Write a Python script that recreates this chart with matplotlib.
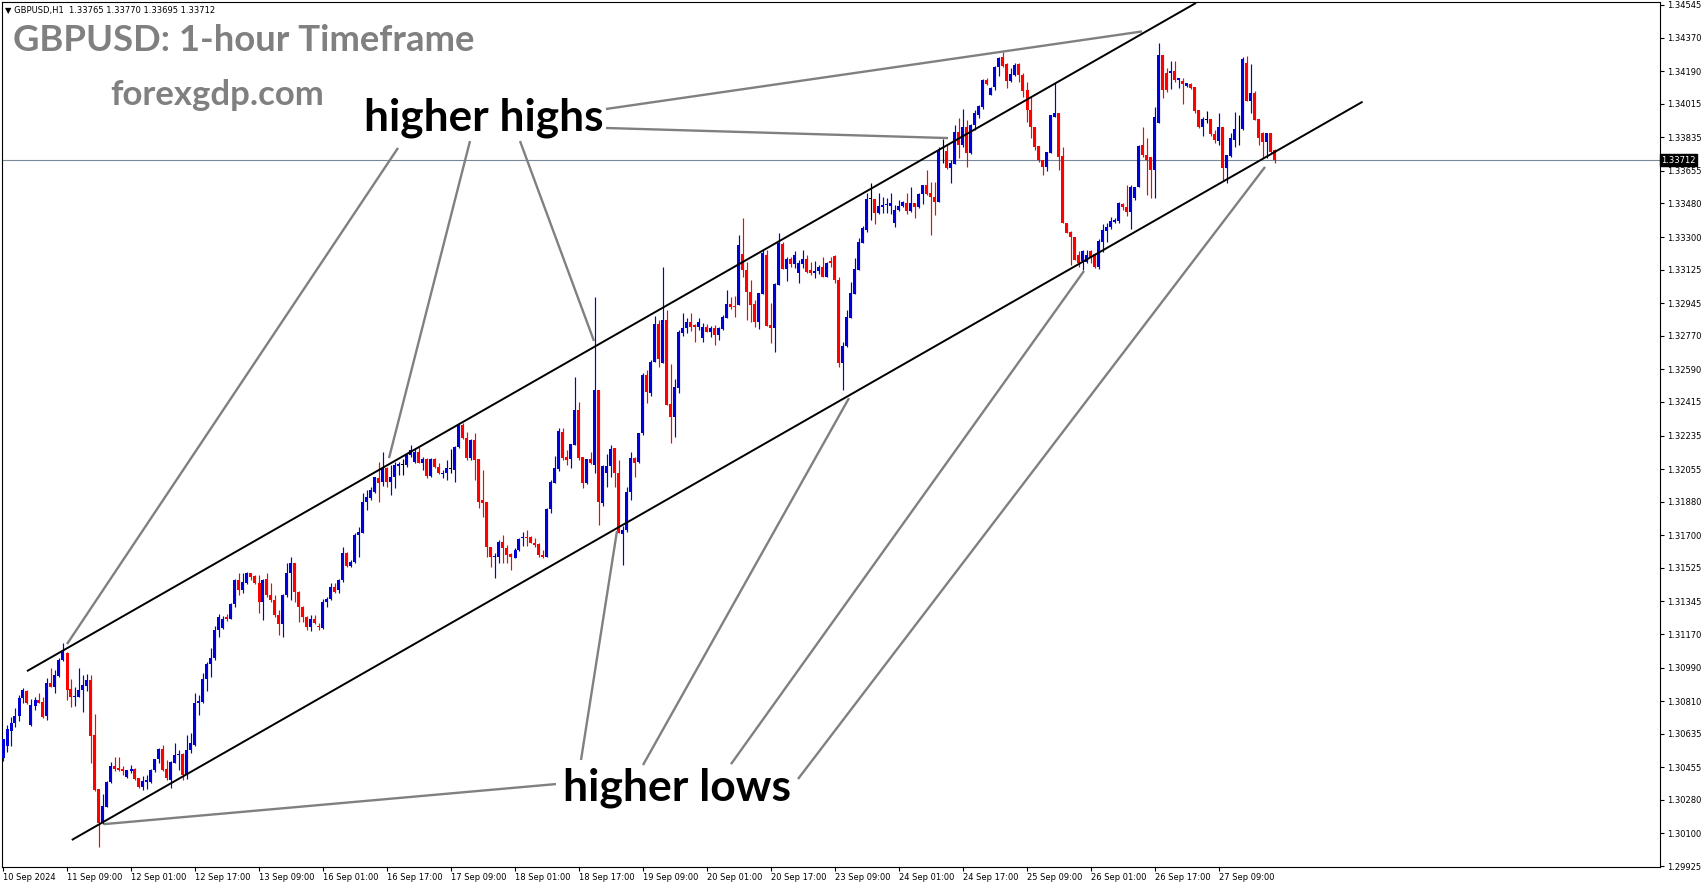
import matplotlib
matplotlib.use("Agg")
import matplotlib.pyplot as plt
import numpy as np

# ---------------- data (GBPUSD H1) ----------------
open_ = [1.30503,1.30569,1.30651,1.30691,1.30730,1.30825,1.30864,1.30682,1.30786,1.30816,
1.30804,1.30730,1.30909,1.30888,1.30945,1.31031,1.31070,1.30875,1.30834,1.30834,
1.30870,1.30893,1.30923,1.30628,1.30338,1.30158,1.30244,1.30378,1.30462,1.30453,
1.30446,1.30401,1.30437,1.30446,1.30395,1.30350,1.30378,1.30378,1.30440,1.30497,
1.30551,1.30445,1.30386,1.30480,1.30521,1.30527,1.30413,1.30547,1.30574,1.30798,
1.30807,1.30927,1.31009,1.31039,1.31191,1.31200,1.31259,1.31250,1.31331,1.31460,
1.31406,1.31442,1.31495,1.31480,1.31442,1.31343,1.31463,1.31380,1.31352,1.31272,
1.31223,1.31379,1.31495,1.31549,1.31397,1.31317,1.31263,1.31209,1.31248,1.31214,
1.31200,1.31340,1.31356,1.31424,1.31406,1.31460,1.31607,1.31535,1.31558,1.31701,
1.31714,1.31880,1.31898,1.31934,1.32006,1.31983,1.32059,1.31987,1.32014,1.32073,
1.32077,1.32077,1.32131,1.32095,1.32144,1.32090,1.32108,1.32018,1.32108,1.32068,
1.32027,1.32032,1.32057,1.32050,1.32175,1.32292,1.32220,1.32112,1.32211,1.32107,
1.31889,1.31880,1.31638,1.31583,1.31585,1.31665,1.31629,1.31599,1.31576,1.31620,
1.31683,1.31692,1.31688,1.31660,1.31653,1.31594,1.31581,1.31839,1.31982,1.32054,
1.32255,1.32121,1.32107,1.32184,1.32372,1.32118,1.31978,1.32107,1.32077,1.32479,
1.31875,1.32032,1.32071,1.32166,1.32036,1.31706,1.31728,1.31934,1.32112,1.32094,
1.32250,1.32560,1.32465,1.32631,1.32833,1.32626,1.32855,1.32404,1.32332,1.32488,
1.32787,1.32810,1.32846,1.32828,1.32819,1.32756,1.32819,1.32792,1.32810,1.32774,
1.32805,1.32864,1.32941,1.32930,1.32935,1.33209,1.33123,1.33007,1.32941,1.32846,
1.32994,1.33204,1.32828,1.32810,1.33043,1.33263,1.33127,1.33180,1.33155,1.33105,
1.33155,1.33180,1.33123,1.33105,1.33120,1.33137,1.33087,1.33173,1.33198,1.33069,
1.32626,1.32715,1.32864,1.32994,1.33123,1.33270,1.33338,1.33505,1.33502,1.33431,
1.33463,1.33472,1.33466,1.33377,1.33445,1.33466,1.33485,1.33441,1.33485,1.33459,
1.33531,1.33579,1.33538,1.33513,1.33490,1.33765,1.33763,1.33669,1.33692,1.33865,
1.33794,1.33892,1.33749,1.33901,1.33955,1.33996,1.34143,1.34062,1.34107,1.34214,
1.34264,1.34229,1.34139,1.34170,1.34229,1.34170,1.34089,1.33982,1.33889,1.33788,
1.33713,1.33677,1.33753,1.33942,1.33964,1.33735,1.33377,1.33329,1.33298,1.33203,
1.33173,1.33168,1.33225,1.33209,1.33137,1.33275,1.33334,1.33356,1.33382,1.33388,
1.33477,1.33463,1.33436,1.33508,1.33570,1.33794,1.33740,1.33731,1.33660,1.33910,
1.34277,1.34182,1.34178,1.34193,1.34143,1.34139,1.34110,1.34121,1.34103,1.33982,
1.33889,1.33928,1.33932,1.33853,1.33817,1.33892,1.33669,1.33735,1.33821,1.33878,
1.33878,1.34236,1.34032,1.34075,1.33932,1.33856,1.33808,1.33856,1.33765]

high = [1.30605,1.30682,1.30727,1.30771,1.30843,1.30879,1.30870,1.30820,1.30830,1.30852,
1.30830,1.30932,1.30986,1.30977,1.31040,1.31120,1.31075,1.30927,1.30888,1.30986,
1.30950,1.30954,1.30950,1.30741,1.30340,1.30312,1.30380,1.30485,1.30512,1.30508,
1.30462,1.30442,1.30467,1.30450,1.30397,1.30408,1.30413,1.30444,1.30502,1.30556,
1.30574,1.30494,1.30490,1.30587,1.30547,1.30530,1.30628,1.30637,1.30851,1.30843,
1.30962,1.31021,1.31093,1.31213,1.31277,1.31267,1.31277,1.31334,1.31463,1.31499,
1.31499,1.31505,1.31499,1.31487,1.31487,1.31463,1.31495,1.31442,1.31379,1.31298,
1.31384,1.31549,1.31585,1.31552,1.31400,1.31320,1.31265,1.31272,1.31272,1.31227,
1.31356,1.31370,1.31445,1.31445,1.31463,1.31639,1.31612,1.31567,1.31714,1.31746,
1.31925,1.31943,1.31961,1.32014,1.32095,1.32148,1.32068,1.32077,1.32095,1.32095,
1.32108,1.32136,1.32184,1.32166,1.32175,1.32118,1.32113,1.32113,1.32113,1.32086,
1.32050,1.32104,1.32161,1.32179,1.32292,1.32301,1.32256,1.32214,1.32250,1.32107,
1.32050,1.31880,1.31638,1.31606,1.31674,1.31701,1.31647,1.31603,1.31629,1.31683,
1.31719,1.31728,1.31695,1.31683,1.31656,1.31620,1.31844,1.31996,1.32125,1.32273,
1.32273,1.32157,1.32189,1.32547,1.32416,1.32121,1.32107,1.32148,1.32980,1.32479,
1.32077,1.32136,1.32184,1.32166,1.32103,1.31749,1.31960,1.32148,1.32118,1.32250,
1.32569,1.32587,1.32640,1.32876,1.32855,1.33141,1.32908,1.32619,1.32536,1.32801,
1.32891,1.32864,1.32891,1.32833,1.32864,1.32837,1.32833,1.32823,1.32828,1.32819,
1.32882,1.33016,1.32980,1.32984,1.33311,1.33400,1.33168,1.33069,1.32962,1.33001,
1.33230,1.33230,1.32944,1.33051,1.33320,1.33275,1.33191,1.33191,1.33227,1.33177,
1.33230,1.33204,1.33168,1.33173,1.33150,1.33191,1.33168,1.33195,1.33204,1.33087,
1.32738,1.32908,1.33060,1.33186,1.33293,1.33359,1.33538,1.33588,1.33502,1.33538,
1.33516,1.33508,1.33534,1.33472,1.33499,1.33495,1.33538,1.33567,1.33485,1.33534,
1.33579,1.33660,1.33597,1.33597,1.33781,1.33824,1.33794,1.33713,1.33901,1.33937,
1.33985,1.33928,1.33905,1.33982,1.34008,1.34146,1.34155,1.34103,1.34218,1.34264,
1.34295,1.34236,1.34205,1.34232,1.34236,1.34182,1.34134,1.34053,1.33889,1.33788,
1.33713,1.33758,1.33955,1.34128,1.33964,1.33785,1.33377,1.33334,1.33298,1.33227,
1.33230,1.33230,1.33230,1.33212,1.33288,1.33370,1.33373,1.33409,1.33400,1.33490,
1.33481,1.33579,1.33579,1.33570,1.33794,1.33892,1.33830,1.33731,1.33999,1.34339,
1.34277,1.34205,1.34247,1.34247,1.34152,1.34152,1.34125,1.34125,1.34103,1.33982,
1.33942,1.33978,1.33932,1.33874,1.33967,1.33892,1.33740,1.33856,1.33973,1.33955,
1.34264,1.34271,1.34229,1.34085,1.33932,1.33865,1.33856,1.33856,1.33770]

low = [1.30490,1.30539,1.30569,1.30669,1.30705,1.30802,1.30795,1.30678,1.30762,1.30798,
1.30721,1.30709,1.30886,1.30855,1.30938,1.31027,1.30816,1.30780,1.30784,1.30830,
1.30753,1.30866,1.30476,1.30330,1.30029,1.30150,1.30240,1.30372,1.30437,1.30437,
1.30413,1.30397,1.30422,1.30385,1.30342,1.30333,1.30340,1.30370,1.30431,1.30476,
1.30436,1.30386,1.30342,1.30476,1.30440,1.30386,1.30390,1.30530,1.30570,1.30736,
1.30800,1.30866,1.30941,1.31030,1.31156,1.31195,1.31242,1.31248,1.31317,1.31379,
1.31388,1.31440,1.31460,1.31440,1.31281,1.31245,1.31370,1.31340,1.31263,1.31164,
1.31155,1.31370,1.31352,1.31343,1.31236,1.31236,1.31191,1.31188,1.31223,1.31191,
1.31196,1.31317,1.31352,1.31388,1.31392,1.31451,1.31531,1.31531,1.31553,1.31585,
1.31710,1.31835,1.31889,1.31925,1.31880,1.31964,1.31957,1.31916,1.31952,1.32023,
1.32023,1.32068,1.32122,1.32090,1.32086,1.32050,1.32005,1.32014,1.32059,1.32029,
1.32005,1.31996,1.32036,1.31987,1.32166,1.32215,1.32103,1.32103,1.31996,1.31844,
1.31799,1.31585,1.31531,1.31468,1.31549,1.31549,1.31549,1.31513,1.31576,1.31617,
1.31642,1.31642,1.31656,1.31635,1.31585,1.31576,1.31581,1.31817,1.31978,1.32047,
1.32103,1.32077,1.32059,1.32184,1.32103,1.31955,1.31975,1.32082,1.32032,1.31755,
1.31857,1.31960,1.32014,1.31960,1.31710,1.31540,1.31719,1.31889,1.32011,1.32086,
1.32238,1.32407,1.32447,1.32631,1.32601,1.32622,1.32398,1.32196,1.32225,1.32461,
1.32769,1.32783,1.32797,1.32738,1.32801,1.32738,1.32788,1.32765,1.32720,1.32747,
1.32801,1.32864,1.32912,1.32869,1.32935,1.33087,1.32855,1.32846,1.32815,1.32805,
1.32994,1.32823,1.32729,1.32685,1.33043,1.33127,1.33066,1.33141,1.33132,1.33051,
1.33132,1.33105,1.33096,1.33078,1.33102,1.33084,1.33087,1.33141,1.33055,1.32601,
1.32479,1.32712,1.32864,1.32994,1.33123,1.33266,1.33329,1.33391,1.33370,1.33423,
1.33427,1.33427,1.33423,1.33356,1.33441,1.33463,1.33423,1.33436,1.33400,1.33454,
1.33477,1.33525,1.33311,1.33418,1.33490,1.33695,1.33663,1.33588,1.33692,1.33722,
1.33785,1.33674,1.33746,1.33874,1.33937,1.33985,1.34116,1.34062,1.34089,1.34164,
1.34214,1.34098,1.34134,1.34164,1.34134,1.34053,1.33919,1.33830,1.33767,1.33704,
1.33633,1.33656,1.33753,1.33942,1.33660,1.33377,1.33323,1.33150,1.33177,1.33141,
1.33123,1.33159,1.33159,1.33132,1.33127,1.33221,1.33275,1.33341,1.33373,1.33377,
1.33445,1.33413,1.33341,1.33499,1.33567,1.33731,1.33525,1.33508,1.33508,1.33910,
1.34044,1.34080,1.34093,1.34134,1.34098,1.34014,1.34107,1.34093,1.33967,1.33883,
1.33842,1.33914,1.33842,1.33803,1.33794,1.33606,1.33592,1.33731,1.33781,1.33794,
1.33874,1.34032,1.33964,1.33928,1.33794,1.33722,1.33722,1.33746,1.33695]

close = [1.30605,1.30659,1.30691,1.30730,1.30825,1.30870,1.30798,1.30789,1.30816,1.30802,
1.30727,1.30909,1.30888,1.30950,1.31031,1.31075,1.30870,1.30834,1.30837,1.30870,
1.30897,1.30923,1.30623,1.30333,1.30154,1.30247,1.30376,1.30462,1.30446,1.30440,
1.30437,1.30440,1.30446,1.30390,1.30347,1.30383,1.30387,1.30440,1.30497,1.30551,
1.30440,1.30395,1.30485,1.30521,1.30527,1.30413,1.30547,1.30587,1.30798,1.30810,
1.30927,1.31009,1.31039,1.31191,1.31259,1.31249,1.31249,1.31331,1.31460,1.31406,
1.31451,1.31499,1.31478,1.31442,1.31343,1.31460,1.31380,1.31352,1.31272,1.31223,
1.31379,1.31495,1.31549,1.31397,1.31317,1.31263,1.31209,1.31248,1.31231,1.31209,
1.31343,1.31356,1.31424,1.31397,1.31460,1.31603,1.31535,1.31558,1.31701,1.31719,
1.31880,1.31907,1.31943,1.32011,1.31978,1.32059,1.31987,1.32014,1.32077,1.32080,
1.32077,1.32131,1.32157,1.32144,1.32090,1.32108,1.32018,1.32108,1.32068,1.32032,
1.32036,1.32059,1.32057,1.32175,1.32292,1.32220,1.32112,1.32211,1.32103,1.31880,
1.31871,1.31638,1.31581,1.31587,1.31665,1.31629,1.31594,1.31585,1.31620,1.31678,
1.31692,1.31683,1.31660,1.31647,1.31594,1.31585,1.31839,1.31987,1.32059,1.32261,
1.32112,1.32103,1.32189,1.32372,1.32112,1.31978,1.32107,1.32086,1.32479,1.31880,
1.32071,1.32071,1.32161,1.32032,1.31713,1.31728,1.31934,1.32112,1.32089,1.32250,
1.32560,1.32470,1.32631,1.32833,1.32644,1.32855,1.32398,1.32332,1.32493,1.32792,
1.32810,1.32846,1.32819,1.32819,1.32846,1.32819,1.32792,1.32810,1.32774,1.32810,
1.32873,1.32941,1.32926,1.32923,1.33257,1.33123,1.33007,1.32935,1.32846,1.32998,
1.33213,1.32823,1.32810,1.33048,1.33266,1.33127,1.33180,1.33155,1.33204,1.33159,
1.33180,1.33114,1.33105,1.33120,1.33137,1.33087,1.33159,1.33162,1.33069,1.32626,
1.32715,1.32873,1.33001,1.33127,1.33275,1.33347,1.33502,1.33505,1.33431,1.33466,
1.33472,1.33477,1.33481,1.33445,1.33466,1.33490,1.33441,1.33485,1.33459,1.33531,
1.33579,1.33531,1.33513,1.33490,1.33763,1.33765,1.33669,1.33699,1.33865,1.33794,
1.33892,1.33749,1.33901,1.33964,1.34003,1.34143,1.34121,1.34098,1.34214,1.34259,
1.34218,1.34139,1.34175,1.34223,1.34170,1.34085,1.33982,1.33889,1.33785,1.33713,
1.33677,1.33758,1.33955,1.33964,1.33731,1.33377,1.33323,1.33298,1.33177,1.33159,
1.33225,1.33202,1.33194,1.33137,1.33280,1.33338,1.33356,1.33388,1.33391,1.33481,
1.33459,1.33436,1.33570,1.33570,1.33788,1.33740,1.33713,1.33660,1.33942,1.34277,
1.34089,1.34089,1.34193,1.34143,1.34152,1.34121,1.34125,1.34098,1.33978,1.33889,
1.33932,1.33928,1.33853,1.33821,1.33892,1.33669,1.33740,1.33830,1.33878,1.33878,
1.34254,1.34032,1.34075,1.33928,1.33830,1.33808,1.33856,1.33758,1.33712]

x_labels = ["10 Sep 2024", "11 Sep 09:00", "12 Sep 01:00", "12 Sep 17:00", "13 Sep 09:00",
            "16 Sep 01:00", "16 Sep 17:00", "17 Sep 09:00", "18 Sep 01:00", "18 Sep 17:00",
            "19 Sep 09:00", "20 Sep 01:00", "20 Sep 17:00", "23 Sep 09:00", "24 Sep 01:00",
            "24 Sep 17:00", "25 Sep 09:00", "26 Sep 01:00", "26 Sep 17:00", "27 Sep 09:00"]
bars_per_label = 16
y_ticks = [1.34545, 1.34370, 1.34190, 1.34015, 1.33835, 1.33655, 1.33480, 1.33300, 1.33125,
           1.32945, 1.32770, 1.32590, 1.32415, 1.32235, 1.32055, 1.31880, 1.31700, 1.31525,
           1.31345, 1.31170, 1.30990, 1.30810, 1.30635, 1.30455, 1.30280, 1.30100, 1.29925]

# channel lines (bar index, price)
upper_channel = ([6.0, 298.25], [1.30971, 1.34556])
lower_channel = ([17.2, 339.9], [1.30065, 1.34026])
# pointer lines (bar index, price) from labels to swing points
highs_pointers = [([98.75, 16.0], [1.33778, 1.31116]),
                  ([116.75, 96.5], [1.33815, 1.32114]),
                  ([129.25, 147.75], [1.33815, 1.32742]),
                  ([150.75, 236.25], [1.33885, 1.33831]),
                  ([150.75, 284.75], [1.33987, 1.34403])]
lows_pointers = [([138.25, 25.25], [1.30365, 1.30150]),
                 ([144.5, 153.5], [1.30494, 1.31723]),
                 ([160.0, 211.5], [1.30467, 1.32436]),
                 ([182.0, 270.25], [1.30472, 1.33118]),
                 ([198.75, 315.5], [1.30392, 1.33676])]

# ---------------- figure ----------------
W, H = 1705, 888
fig = plt.figure(figsize=(W / 100, H / 100), dpi=100)
fig.patch.set_facecolor("white")
ax = fig.add_axes([2 / W, 1 - 867 / H, (1660 - 2) / W, (867 - 2) / H])
ax.set_facecolor("white")

o = np.array(open_); h = np.array(high); l = np.array(low); c = np.array(close)
x = np.arange(len(c))
up_col, dn_col = "#0000D8", "#FF0000"
cols = np.where(c > o, up_col, np.where(c < o, dn_col, "#000000"))

ax.vlines(x, l, h, colors=cols, linewidth=0.85, zorder=3)
body_h = np.maximum(np.abs(c - o), 0.00004)
body_b = np.minimum(o, c)
ax.bar(x, body_h, bottom=body_b, width=0.75, color=cols, linewidth=0, zorder=4)

# current price line
ax.axhline(c[-1], color="#778899", linewidth=0.8, zorder=2)

# channel
for xs, ys in (upper_channel, lower_channel):
    ax.plot(xs, ys, color="black", linewidth=1.4, zorder=5, solid_capstyle="butt")
for xs, ys in highs_pointers + lows_pointers:
    ax.plot(xs, ys, color="#808080", linewidth=1.7, zorder=5, solid_capstyle="butt")

ax.set_xlim(-0.25, 414.25)
ax.set_ylim(1.29920, 1.34561)

for s in ax.spines.values():
    s.set_color("black")
    s.set_linewidth(0.8)

ax.yaxis.tick_right()
ax.set_yticks(y_ticks)
ax.set_yticklabels([f"{v:.5f}" for v in y_ticks])
ax.tick_params(axis="y", which="both", direction="out", length=3, width=0.8,
               labelsize=6, pad=2, colors="black", left=False, right=True)
xpos = np.arange(len(x_labels)) * bars_per_label
ax.set_xticks(xpos)
ax.set_xticklabels(x_labels)
for t in ax.get_xticklabels():
    t.set_ha("left")
ax.tick_params(axis="x", which="both", direction="out", length=3, width=0.8,
               labelsize=6, pad=1.5, colors="black")

# current price tag
ax.text(1.0008, c[-1], f"{c[-1]:.5f}", transform=ax.get_yaxis_transform(),
        fontsize=6, color="white", va="center", ha="left", zorder=10,
        bbox=dict(boxstyle="square,pad=0.15", facecolor="black", edgecolor="black"),
        clip_on=False)

def fx(px):
    return px / W

def fy(py):
    return 1 - py / H

fig.text(fx(5), fy(10), f"\u25bc GBPUSD,H1  {o[-1]:.5f} {h[-1]:.5f} {l[-1]:.5f} {c[-1]:.5f}",
         fontsize=6, color="black", va="center", ha="left", family=["DejaVu Sans"])
fig.text(fx(13), fy(51), "GBPUSD: 1-hour Timeframe", fontsize=26.3, fontweight="bold",
         family=["Lato", "DejaVu Sans"], color="#808080", va="baseline", ha="left")
fig.text(fx(110), fy(105), "forexgdp.com", fontsize=25, fontweight="bold",
         family=["Lato", "DejaVu Sans"], color="#808080", va="baseline", ha="left")
fig.text(fx(364), fy(130), "higher highs", fontsize=31.8, fontweight="bold",
         family=["Lato", "DejaVu Sans"], color="black", va="baseline", ha="left")
fig.text(fx(563), fy(801), "higher lows", fontsize=32, fontweight="bold",
         family=["Lato", "DejaVu Sans"], color="black", va="baseline", ha="left")

fig.savefig("out.png", dpi=100, facecolor="white")
